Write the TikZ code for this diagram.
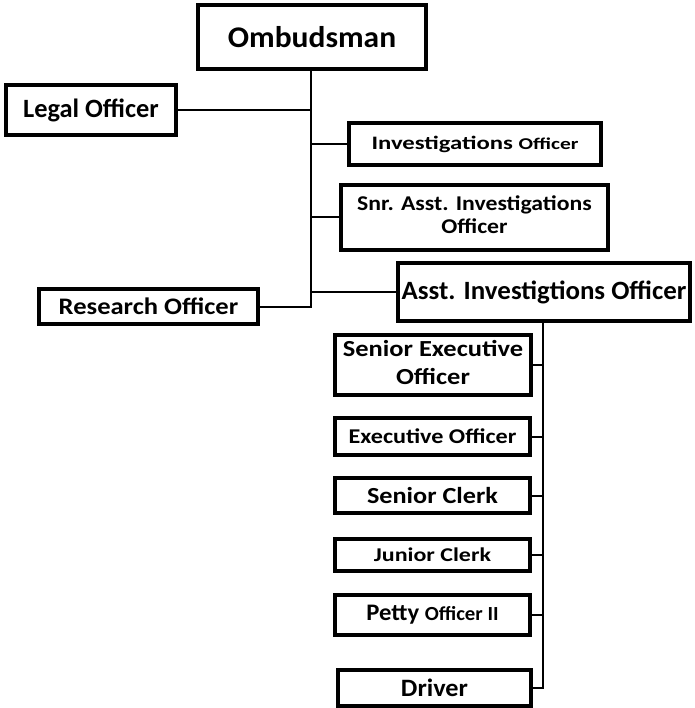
\documentclass[tikz,border=0pt]{standalone}
\usepackage{fontspec}
\usepackage{graphicx}
\setmainfont{Carlito}
% font size shortcut and horizontal stretch of a label
\newcommand{\fsz}[1]{\fontsize{#1}{#1}\selectfont}
\newcommand{\wide}[2]{\scalebox{#1}[1]{#2}}
\tikzset{
  post/.style={draw=black, line width=4pt, fill=white, inner sep=0pt,
               font=\bfseries, align=center},
  link/.style={draw=black, line width=2pt},
}
\begin{document}
\begin{tikzpicture}[x=1pt,y=-1pt]
\useasboundingbox (0,0) rectangle (694,708);
\fill[white] (0,0) rectangle (694,708);

% top of the office
\node[post, minimum width=228pt, minimum height=64pt] (omb) at (312,37)
  {\fsz{30}\wide{1.05}{Ombudsman}};
\node[post, minimum width=170pt, minimum height=50pt] (legal) at (91,110)
  {\fsz{26.4}\wide{1.0}{Legal Officer}};
\node[post, minimum width=252pt, minimum height=42pt] (inv) at (475,144)
  {\wide{1.3}{\fsz{19}Investigations \fsz{16.5}Officer}};
\node[post, minimum width=267pt, minimum height=65pt] (snr) at (474.5,217.5)
  {\wide{1.13}{\fontsize{21}{22.6}\selectfont\begin{tabular}{@{}c@{}}Snr. Asst. Investigations\\Officer\end{tabular}}};
\node[post, minimum width=292pt, minimum height=58pt] (asst) at (544,292)
  {\fsz{26.4}\wide{1.02}{Asst. Investigtions Officer}};
\node[post, minimum width=219pt, minimum height=35pt] (research) at (148.5,306.5)
  {\fsz{23.7}\wide{1.12}{Research Officer}};

% staff under the assistant investigations officer
\node[post, minimum width=196pt, minimum height=60pt] (seo) at (433,365)
  {\wide{1.15}{\fontsize{23}{28}\selectfont\begin{tabular}{@{}c@{}}Senior Executive\\Officer\end{tabular}}};
\node[post, minimum width=195pt, minimum height=37pt] (eo) at (432.5,436.5)
  {\fsz{21}\wide{1.15}{Executive Officer}};
\node[post, minimum width=195pt, minimum height=35pt] (sc) at (432.5,495.5)
  {\fsz{23}\wide{1.14}{Senior Clerk}};
\node[post, minimum width=195pt, minimum height=32pt] (jc) at (432.5,555)
  {\fsz{19.5}\wide{1.23}{Junior Clerk}};
\node[post, minimum width=195pt, minimum height=40pt] (po) at (432.5,615)
  {\wide{1.04}{\fsz{23.7}Petty \fsz{20}Officer II}};
\node[post, minimum width=193pt, minimum height=36pt] (drv) at (434.5,688)
  {\fsz{25}\wide{1.05}{Driver}};

% main trunk from the Ombudsman
\coordinate (t) at ([xshift=-1pt]omb.south);
\draw[link] (t) -- (t |- research.east) -- (research.east);
\foreach \n in {legal} \draw[link] (\n.east) -- (\n.east -| t);
\foreach \n in {inv, snr, asst} \draw[link] (\n.west) -- (\n.west -| t);

% trunk from the assistant investigations officer
\coordinate (s) at ([xshift=-1pt]asst.south);
\draw[link] (s) -- (s |- drv.east) -- (drv.east);
\foreach \n in {seo, eo, sc, jc, po} \draw[link] (\n.east) -- (\n.east -| s);
\end{tikzpicture}
\end{document}
